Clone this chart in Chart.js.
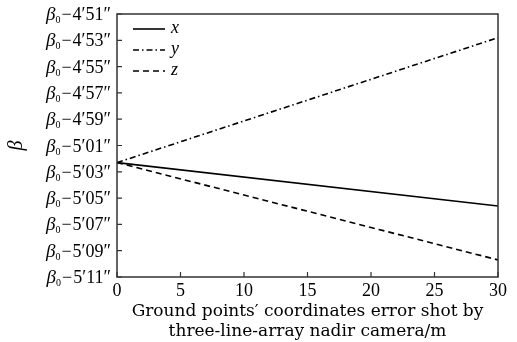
<!DOCTYPE html>
<html>
<head>
<meta charset="utf-8">
<script src="https://cdn.jsdelivr.net/npm/chart.js@4.4.1/dist/chart.umd.min.js"></script>
<style>
  html,body{margin:0;padding:0;background:#fff;}
  #wrap{width:517px;height:342px;}
</style>
</head>
<body>
<div id="wrap"><canvas id="c" width="517" height="342"></canvas></div>
<script>
/* DATA (y in seconds, negative offset from beta0) */
const xValues=[0,30];
const seriesX=[-302.3,-305.6];
const seriesY=[-302.3,-292.8];
const seriesZ=[-302.3,-309.7];
const xTickLabels=["0","5","10","15","20","25","30"];
const yTickLabels=["5′11″","5′09″","5′07″","5′05″","5′03″","5′01″","4′59″","4′57″","4′55″","4′53″","4′51″"];
const seriesNames=["x","y","z"];

const serif="'DejaVu Serif','Liberation Serif',serif";
const times="'Liberation Serif','Times New Roman',serif";

function pts(vals){
  return vals.map((v,i)=>({x:xValues[i],y:v}));
}

/* frame, inward ticks, y labels (β₀− prefix), legend */
const framePlugin={
  id:"frame",
  afterDraw(chart){
    const ctx=chart.ctx, a=chart.chartArea;
    const xs=chart.scales.x, ys=chart.scales.y;
    ctx.save();
    ctx.strokeStyle="#333";
    ctx.lineWidth=1.5;
    ctx.strokeRect(a.left,a.top,a.right-a.left,a.bottom-a.top);
    ctx.lineWidth=1.2;
    ctx.beginPath();
    xs.ticks.forEach(t=>{
      const px=xs.getPixelForValue(t.value);
      ctx.moveTo(px,a.bottom);ctx.lineTo(px,a.bottom-5);
    });
    ys.ticks.forEach(t=>{
      const py=ys.getPixelForValue(t.value);
      ctx.moveTo(a.left,py);ctx.lineTo(a.left+5,py);
    });
    ctx.stroke();

    // y tick labels: italic beta, subscript 0, minus, then the offset
    ctx.fillStyle="#000";
    ctx.textBaseline="alphabetic";
    ys.ticks.forEach((t,i)=>{
      const py=ys.getPixelForValue(t.value)+6;
      let x=a.left-6;
      ctx.font="18px "+times;
      const rest=yTickLabels[i];
      x-=ctx.measureText(rest).width;
      ctx.fillText(rest,x,py);
      x-=ctx.measureText("−").width+1;
      ctx.fillText("−",x,py);
      ctx.font="10px "+times;
      x-=ctx.measureText("0").width+1;
      ctx.fillText("0",x,py+3);
      ctx.font="italic 19px "+times;
      x-=ctx.measureText("β").width;
      ctx.fillText("β",x,py);
    });

    // legend
    chart.data.datasets.forEach((ds,i)=>{
      const y=a.top+15+i*21;
      ctx.strokeStyle="#000";
      ctx.lineWidth=ds.borderWidth;
      ctx.setLineDash(ds.borderDash||[]);
      ctx.beginPath();
      ctx.moveTo(a.left+16,y);ctx.lineTo(a.left+48,y);
      ctx.stroke();
      ctx.setLineDash([]);
      ctx.font="italic 18px "+times;
      ctx.textBaseline="middle";
      ctx.fillText(ds.label,a.left+54,y-1);
    });
    ctx.restore();
  }
};

new Chart(document.getElementById("c"),{
  type:"scatter",
  data:{
    datasets:[
      {label:seriesNames[0],data:pts(seriesX),showLine:true,borderColor:"#000",borderWidth:1.6,pointRadius:0},
      {label:seriesNames[1],data:pts(seriesY),showLine:true,borderColor:"#000",borderWidth:1.6,borderDash:[6,3,1.5,3],pointRadius:0},
      {label:seriesNames[2],data:pts(seriesZ),showLine:true,borderColor:"#000",borderWidth:1.6,borderDash:[6,4],pointRadius:0}
    ]
  },
  options:{
    responsive:false,
    animation:false,
    layout:{padding:{top:14,right:19,left:0,bottom:0}},
    plugins:{legend:{display:false},tooltip:{enabled:false}},
    scales:{
      x:{
        type:"linear",min:0,max:30,
        grid:{display:false,drawTicks:false},
        border:{display:false},
        ticks:{stepSize:5,color:"#000",font:{family:times,size:18},padding:3,
          callback:(v,i)=>xTickLabels[i]},
        title:{display:true,text:["Ground points′ coordinates error shot by","three-line-array nadir camera/m"],
          color:"#000",font:{family:serif,size:17,lineHeight:1.18},padding:{top:2,bottom:0}},
        afterFit(s){s.height=65;}
      },
      y:{
        min:-311,max:-291,
        grid:{display:false,drawTicks:false},
        border:{display:false},
        ticks:{stepSize:2,display:false},
        title:{display:true,text:"β",color:"#000",font:{family:times,size:20,style:"italic"},padding:{top:5,bottom:0}},
        afterFit(s){s.width=117;}
      }
    }
  },
  plugins:[framePlugin]
});
</script>
</body>
</html>
